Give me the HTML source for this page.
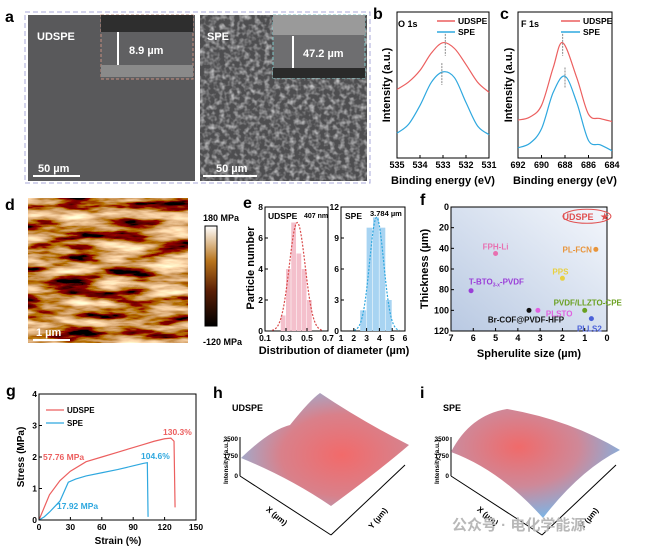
<!DOCTYPE html>
<html><head><meta charset="utf-8"><style>
body{margin:0;background:#fff}
svg{display:block;font-family:"Liberation Sans","Noto Sans CJK SC",sans-serif}
text{font-weight:bold}
</style></head><body>
<svg id="fig" width="650" height="550" viewBox="0 0 650 550" xmlns="http://www.w3.org/2000/svg">
<defs>
<filter id="semTex" x="0" y="0" width="100%" height="100%">
<feTurbulence type="fractalNoise" baseFrequency="0.2" numOctaves="2" seed="3"/>
<feColorMatrix type="matrix" values="0 0 0 0 0.55  0 0 0 0 0.55  0 0 0 0 0.56  2 0 0 0 -0.8"/>
</filter>
<filter id="afmTex" x="0" y="0" width="100%" height="100%">
<feTurbulence type="fractalNoise" baseFrequency="0.02 0.1" numOctaves="4" seed="7"/>
<feColorMatrix type="matrix" values="2.2 0 0 0 -0.55  2.2 0 0 0 -0.85  1.8 0 0 0 -0.85  0 0 0 0 1"/>
</filter>
<linearGradient id="cbar" x1="0" y1="1" x2="0" y2="0"><stop offset="0" stop-color="#000"/><stop offset="0.35" stop-color="#5a1e05"/><stop offset="0.65" stop-color="#b8741c"/><stop offset="1" stop-color="#fff"/></linearGradient>
<linearGradient id="fbg" x1="1" y1="0" x2="0" y2="1"><stop offset="0" stop-color="#f4f7fc"/><stop offset="1" stop-color="#b9c9e2"/></linearGradient>
<radialGradient id="hG" cx="0.6" cy="0.55" r="0.6"><stop offset="0" stop-color="#f26a6a"/><stop offset="0.6" stop-color="#d9808a"/><stop offset="1" stop-color="#a4a8c8"/></radialGradient>
<radialGradient id="iG" cx="0.4" cy="0.35" r="0.65"><stop offset="0" stop-color="#f06a6a"/><stop offset="0.55" stop-color="#cf8898"/><stop offset="1" stop-color="#7fb3e3"/></radialGradient>
</defs>
<g id="root"></g>
</svg>
<script>
// ---- panel b (O 1s) ----
const bX=[535,534.5,534,533.5,533,532.5,532,531.5,531];
const bRed=[0.47,0.52,0.60,0.72,0.79,0.75,0.64,0.52,0.45];
const bBlue=[0.17,0.23,0.36,0.52,0.59,0.55,0.38,0.22,0.16];
const bTicks=[535,534,533,532,531];
// ---- panel c (F 1s) ----
const cRedX=[692,691,690,689,688.2,687,686,685,684];
const cRed=[0.26,0.28,0.36,0.62,0.79,0.55,0.30,0.27,0.25];
const cBlueX=[692,691,690,689,688,687,686,685,684];
const cBlue=[0.07,0.10,0.20,0.45,0.56,0.38,0.12,0.09,0.05];
const cTicks=[692,690,688,686,684];
// ---- panel e ----
const eUdX=[0.275,0.325,0.375,0.425,0.475,0.525];
const eUdN=[1,4,7,5,4,2];
const eUdFit=[7,0.407,0.075];
const eSpX=[2.75,3.25,3.75,4.25,4.75];
const eSpN=[2,10,11,10,3];
const eSpFit=[11,3.784,0.55];
const eUdTicksX=[0.1,0.3,0.5,0.7], eUdTicksY=[0,2,4,6,8];
const eSpTicksX=[1,2,3,4,5,6], eSpTicksY=[0,3,6,9,12];
// ---- panel f ----
const fNames=["FPH-Li","PL-FCN","PPS","T-BTO","Br-COF@PVDF-HFP","PLSTO","PVDF/LLZTO-CPE","PLLS2"];
const fSize=[5,0.5,2,6.1,3.5,3.1,1,0.7];
const fThick=[45,41,69,81,100,100,100,108];
const fColors=["#e870b0","#e8943a","#e8d040","#9a3ed8","#111","#e060e0","#6aa020","#4a60d8"];
const fTicksX=[7,6,5,4,3,2,1,0], fTicksY=[0,20,40,60,80,100,120];
// ---- panel g ----
const gUdS=[0,5,10,20,30,45,60,75,90,100,110,120,126,129,130];
const gUdP=[0,0.4,0.8,1.25,1.55,1.85,2.0,2.15,2.3,2.4,2.5,2.58,2.6,2.5,0.4];
const gSpS=[0,5,10,20,28,35,45,60,75,90,100,103.5,104.2];
const gSpP=[0,0.1,0.25,0.6,1.2,1.3,1.4,1.5,1.6,1.72,1.8,1.82,0.1];
const gTicksX=[0,30,60,90,120,150], gTicksY=[0,1,2,3,4];

const NS="http://www.w3.org/2000/svg";
const root=document.getElementById('root');
function el(tag,attrs,parent,txt){const e=document.createElementNS(NS,tag);for(const k in attrs)e.setAttribute(k,attrs[k]);if(txt!==undefined)e.textContent=txt;(parent||root).appendChild(e);return e;}
function lin(d0,d1,r0,r1){return v=>r0+(v-d0)*(r1-r0)/(d1-d0);}
function smooth(pts){let d="M"+pts[0][0]+","+pts[0][1];for(let i=0;i<pts.length-1;i++){const p0=pts[Math.max(0,i-1)],p1=pts[i],p2=pts[i+1],p3=pts[Math.min(pts.length-1,i+2)];const c1=[p1[0]+(p2[0]-p0[0])/6,p1[1]+(p2[1]-p0[1])/6],c2=[p2[0]-(p3[0]-p1[0])/6,p2[1]-(p3[1]-p1[1])/6];d+=" C"+c1+" "+c2+" "+p2;}return d;}
function txt(x,y,s,size,opts,name){const t=el('text',Object.assign({x:x,y:y,'font-size':size},opts||{}),root,s);return t;}
function frame(x0,y0,x1,y1,name){const r=el('rect',{x:x0,y:y0,width:x1-x0,height:y1-y0,fill:'none',stroke:'#000','stroke-width':1});}
function xTicks(ticks,sx,y,size,name){ticks.forEach(t=>{const l=el('line',{x1:sx(t),x2:sx(t),y1:y,y2:y-3,stroke:'#000'});txt(sx(t),y+10,String(t),size,{'text-anchor':'middle'},name+'-tick-label');});}
function yTicks(ticks,sy,x,size,name){ticks.forEach(t=>{const l=el('line',{x1:x,x2:x+3,y1:sy(t),y2:sy(t),stroke:'#000'});txt(x-2,sy(t)+3,String(t),size,{'text-anchor':'end'},name+'-tick-label');});}
function line(pts,color,name,w){const p=el('path',{d:smooth(pts),fill:'none',stroke:color,'stroke-width':w||1.2});return p;}

// ===== panel a =====
(function(){
const b=el('rect',{x:25,y:12,width:345,height:171,fill:'none',stroke:'#a8a8d8','stroke-dasharray':'5,3'});

let r=el('rect',{x:28,y:15,width:167,height:166,fill:'#59595b'});
r=el('rect',{x:101,y:15,width:92,height:64,fill:'#606062',stroke:'#c89080','stroke-dasharray':'3,2'});
r=el('rect',{x:101,y:15,width:92,height:17,fill:'#2e2e2e'});
r=el('rect',{x:101,y:65,width:92,height:12,fill:'#8a8a8a'});
el('line',{x1:118,x2:118,y1:32,y2:65,stroke:'#fff','stroke-width':2});
txt(129,54,'8.9 µm',11,{fill:'#fff'},'udspe-thickness-label');
txt(37,40,'UDSPE',11,{fill:'#fff'},'udspe-title');
el('line',{x1:33,x2:80,y1:176,y2:176,stroke:'#fff','stroke-width':2});
txt(38,172,'50 µm',11,{fill:'#fff'},'udspe-scalebar-label');
r=el('rect',{x:200,y:15,width:167,height:166,fill:'#4e4e50'});
r=el('rect',{x:200,y:15,width:167,height:166,fill:'#000',filter:'url(#semTex)'});
r=el('rect',{x:273,y:15,width:92,height:63,fill:'#6e6e70',stroke:'#80c8c8','stroke-dasharray':'3,2'});
r=el('rect',{x:273,y:15,width:92,height:20,fill:'#9a9a9a'});
r=el('rect',{x:273,y:68,width:92,height:10,fill:'#2a2a2a'});
el('line',{x1:293,x2:293,y1:36,y2:68,stroke:'#fff','stroke-width':2});
txt(303,57,'47.2 µm',11,{fill:'#fff'},'spe-thickness-label');
txt(207,40,'SPE',11,{fill:'#fff'},'spe-title');
el('line',{x1:203,x2:257,y1:176,y2:176,stroke:'#fff','stroke-width':2});
txt(216,172,'50 µm',11,{fill:'#fff'},'spe-scalebar-label');
txt(5,22,'a',16,{},'panel-a-label');
})();

// ===== panel b =====
(function(){
const sx=lin(535,531,397,489), sy=lin(0,1,158,12);
frame(397,12,489,158,'panel-b-frame');
line(bX.map((v,i)=>[sx(v),sy(bRed[i])]),'#ec5f5f','o1s-udspe-line');
line(bX.map((v,i)=>[sx(v),sy(bBlue[i])]),'#2fa8df','o1s-spe-line');
el('line',{x1:sx(532.9),x2:sx(532.9),y1:sy(0.85),y2:sy(0.7),stroke:'#888','stroke-dasharray':'2,1'});
el('line',{x1:sx(533.05),x2:sx(533.05),y1:sy(0.65),y2:sy(0.5),stroke:'#888','stroke-dasharray':'2,1'});
xTicks(bTicks,sx,158,9,'panel-b-x');
txt(443,184,'Binding energy (eV)',11,{'text-anchor':'middle'},'panel-b-x-title');
txt(390,85,'Intensity (a.u.)',11,{'text-anchor':'middle',transform:'rotate(-90 390 85)'},'panel-b-y-title');
txt(398,27,'O 1s',9,{},'panel-b-subtitle');
el('line',{x1:437,x2:455,y1:21,y2:21,stroke:'#ec5f5f','stroke-width':1.5});txt(458,24,'UDSPE',8.5,{},'legend-udspe');
el('line',{x1:437,x2:455,y1:32,y2:32,stroke:'#2fa8df','stroke-width':1.5});txt(458,35,'SPE',8.5,{},'legend-spe');
txt(373,19,'b',16,{},'panel-b-label');
})();

// ===== panel c =====
(function(){
const sx=lin(692,684,518,612), sy=lin(0,1,158,12);
frame(518,12,612,158,'panel-c-frame');
line(cRedX.map((v,i)=>[sx(v),sy(cRed[i])]),'#ec5f5f','f1s-udspe-line');
line(cBlueX.map((v,i)=>[sx(v),sy(cBlue[i])]),'#2fa8df','f1s-spe-line');
el('line',{x1:sx(688.2),x2:sx(688.2),y1:sy(0.85),y2:sy(0.7),stroke:'#888','stroke-dasharray':'2,1'});
el('line',{x1:sx(688),x2:sx(688),y1:sy(0.62),y2:sy(0.48),stroke:'#888','stroke-dasharray':'2,1'});
xTicks(cTicks,sx,158,9,'panel-c-x');
txt(565,184,'Binding energy (eV)',11,{'text-anchor':'middle'},'panel-c-x-title');
txt(512,85,'Intensity (a.u.)',11,{'text-anchor':'middle',transform:'rotate(-90 512 85)'},'panel-c-y-title');
txt(521,27,'F 1s',9,{},'panel-c-subtitle');
el('line',{x1:561,x2:580,y1:21,y2:21,stroke:'#ec5f5f','stroke-width':1.5});txt(583,24,'UDSPE',8.5,{},'legend-udspe-c');
el('line',{x1:561,x2:580,y1:32,y2:32,stroke:'#2fa8df','stroke-width':1.5});txt(583,35,'SPE',8.5,{},'legend-spe-c');
txt(500,19,'c',16,{},'panel-c-label');
})();

// ===== panel d =====
(function(){
let r=el('rect',{x:28,y:198,width:160,height:145,fill:'#000',filter:'url(#afmTex)'});
el('line',{x1:33,x2:70,y1:340,y2:340,stroke:'#fff','stroke-width':2});
txt(36,336,'1 µm',11,{fill:'#fff'},'afm-scalebar-label');
r=el('rect',{x:205,y:226,width:12,height:100,fill:'url(#cbar)',stroke:'#000'});
txt(203,221,'180 MPa',9,{},'colorbar-max');txt(203,345,'-120 MPa',9,{},'colorbar-min');
txt(5,210,'d',16,{},'panel-d-label');
})();

// ===== panel e =====
(function(){
function hist(x0,x1,xd,yd,xs,ns,fit,col,bar,tx,ty,nm,bw){
 const sx=lin(xd[0],xd[1],x0,x1), sy=lin(0,yd,331,207);
 frame(x0,207,x1,331,nm+'-frame');
 xs.forEach((v,i)=>{const r=el('rect',{x:sx(v-bw/2),y:sy(ns[i]),width:sx(v+bw/2)-sx(v-bw/2)-0.5,height:331-sy(ns[i]),fill:bar});});
 const pts=[];const n=60;for(let k=0;k<=n;k++){const v=fit[1]-3.2*fit[2]+k*6.4*fit[2]/n;pts.push([sx(v),sy(fit[0]*Math.exp(-0.5*Math.pow((v-fit[1])/fit[2],2)))]);}
 const p=el('path',{d:'M'+pts.join(' L'),fill:'none',stroke:col,'stroke-width':1.2,'stroke-dasharray':'2,1.5'});
 xTicks(tx,sx,331,8.5,nm+'-x');yTicks(ty,sy,x0,8.5,nm+'-y');
}
hist(265,328,[0.1,0.7],8,eUdX,eUdN,eUdFit,'#d94a4a','#f4c0cc',eUdTicksX,eUdTicksY,'udspe-hist',0.05);
hist(341,405,[1,6],12,eSpX,eSpN,eSpFit,'#2fa8df','#a8d4f2',eSpTicksX,eSpTicksY,'spe-hist',0.5);
txt(268,219,'UDSPE',8.5,{},'udspe-hist-title');txt(304,218,'407 nm',7,{},'udspe-mean');
txt(345,219,'SPE',8.5,{},'spe-hist-title');txt(370,216,'3.784 µm',7.5,{},'spe-mean');
txt(334,354,'Distribution of diameter (µm)',11,{'text-anchor':'middle'},'panel-e-x-title');
txt(254,268,'Particle number',11,{'text-anchor':'middle',transform:'rotate(-90 254 268)'},'panel-e-y-title');
txt(243,208,'e',16,{},'panel-e-label');
})();

// ===== panel f =====
(function(){
const sx=lin(7,0,451,607), sy=lin(0,120,207,331);
let r=el('rect',{x:451,y:207,width:156,height:124,fill:'url(#fbg)'});
frame(451,207,607,331,'panel-f-frame');
const e=el('ellipse',{cx:sx(0.9),cy:sy(9),rx:24,ry:7,fill:'none',stroke:'#e05050'});
txt(sx(1.3),sy(9)+3.5,'UDSPE',9,{fill:'#e05050','text-anchor':'middle'},'udspe-point-label');
txt(sx(0.1),sy(9)+3.5,'★',9,{fill:'#e05050','text-anchor':'middle'},'udspe-star');
const lbl={"FPH-Li":[0,-7,'middle'],"PL-FCN":[-4,0,'end'],"PPS":[-2,-7,'middle'],"T-BTO":[2,-8,'start'],"Br-COF@PVDF-HFP":[-3,9,'middle'],"PLSTO":[8,3,'start'],"PVDF/LLZTO-CPE":[3,-8,'middle'],"PLLS2":[-2,10,'middle']};
fNames.forEach((n,i)=>{const c=el('circle',{cx:sx(fSize[i]),cy:sy(fThick[i]),r:2.5,fill:fColors[i]});
 const o=lbl[n];const t=txt(sx(fSize[i])+o[0],sy(fThick[i])+o[1]+3,n==='T-BTO'?'':n,8,{fill:fColors[i],'text-anchor':o[2]},'point-label');
 if(n==='T-BTO'){t.setAttribute('x',sx(6.2));t.setAttribute('y',sy(fThick[i])-6);el('tspan',{},t,'T-BTO');el('tspan',{'font-size':5,dy:2},t,'3-x');el('tspan',{dy:-2},t,'-PVDF');}
});
xTicks(fTicksX,sx,331,9,'panel-f-x');yTicks(fTicksY,sy,451,9,'panel-f-y');
txt(529,357,'Spherulite size (µm)',11,{'text-anchor':'middle'},'panel-f-x-title');
txt(428,269,'Thickness (µm)',11,{'text-anchor':'middle',transform:'rotate(-90 428 269)'},'panel-f-y-title');
txt(420,205,'f',16,{},'panel-f-label');
})();

// ===== panel g =====
(function(){
const sx=lin(0,150,39,196), sy=lin(0,4,520,394);
frame(39,394,196,520,'panel-g-frame');
const p1=el('path',{d:'M'+gUdS.map((v,i)=>[sx(v),sy(gUdP[i])]).join(' L'),fill:'none',stroke:'#ec5f5f','stroke-width':1.2});
const p2=el('path',{d:'M'+gSpS.map((v,i)=>[sx(v),sy(gSpP[i])]).join(' L'),fill:'none',stroke:'#2fa8df','stroke-width':1.2});
xTicks(gTicksX,sx,520,8.5,'panel-g-x');yTicks(gTicksY,sy,39,8.5,'panel-g-y');
txt(118,544,'Strain (%)',10,{'text-anchor':'middle'},'panel-g-x-title');
txt(24,457,'Stress (MPa)',10,{'text-anchor':'middle',transform:'rotate(-90 24 457)'},'panel-g-y-title');
el('line',{x1:46,x2:64,y1:410,y2:410,stroke:'#ec5f5f','stroke-width':1.3});txt(67,413,'UDSPE',8,{},'legend-udspe-g');
el('line',{x1:46,x2:64,y1:423,y2:423,stroke:'#2fa8df','stroke-width':1.3});txt(67,426,'SPE',8,{},'legend-spe-g');
txt(43,460,'57.76 MPa',8.5,{fill:'#ec5f5f'},'udspe-strength-label');
txt(163,435,'130.3%',8.5,{fill:'#ec5f5f'},'udspe-elongation-label');
txt(141,459,'104.6%',8.5,{fill:'#2fa8df'},'spe-elongation-label');
txt(57,509,'17.92 MPa',8.5,{fill:'#2fa8df'},'spe-strength-label');
txt(6,396,'g',16,{},'panel-g-label');
})();

// ===== panels h, i =====
function surf(ax,nm,title,pts,grad,lab){
 txt(lab[0],lab[1],title,9,{},nm+'-title');
 el('line',{x1:ax,x2:ax,y1:437,y2:476,stroke:'#000'});
 el('line',{x1:ax,x2:ax+91,y1:476,y2:535,stroke:'#000'});
 el('line',{x1:ax+91,x2:ax+165,y1:535,y2:465,stroke:'#000'});
 txt(ax-2,441,'3500',6.5,{'text-anchor':'end'},nm+'-z-tick');txt(ax-2,458,'1750',6.5,{'text-anchor':'end'},nm+'-z-tick');txt(ax-2,478,'0',6.5,{'text-anchor':'end'},nm+'-z-tick');
 txt(ax-12,462,'Intensity (a.u.)',6.5,{'text-anchor':'middle',transform:'rotate(-90 '+(ax-12)+' 462)'},nm+'-z-title');
 txt(ax+35,518,'X (µm)',8,{'text-anchor':'middle',transform:'rotate(40 '+(ax+35)+' 518)'},nm+'-x-title');
 txt(ax+140,520,'Y (µm)',8,{'text-anchor':'middle',transform:'rotate(-50 '+(ax+140)+' 520)'},nm+'-y-title');
 const s=el('path',{d:pts,fill:grad});
}
surf(240,'udspe-3d','UDSPE','M241,458 Q270,430 290,425 Q310,400 320,393 Q360,420 409,445 Q380,470 331,506 Q290,478 241,458Z','url(#hG)',[232,411]);
txt(213,398,'h',16,{},'panel-h-label');
surf(451,'spe-3d','SPE','M451,452 Q470,415 507,409 Q570,420 620,450 Q580,470 543,518 Q500,470 451,452Z','url(#iG)',[443,411]);
txt(420,398,'i',16,{},'panel-i-label');
txt(452,530,'公众号 · 电化学能源',15,{fill:'#b8b8b8','font-weight':'normal'},'watermark');
</script>
</body></html>
